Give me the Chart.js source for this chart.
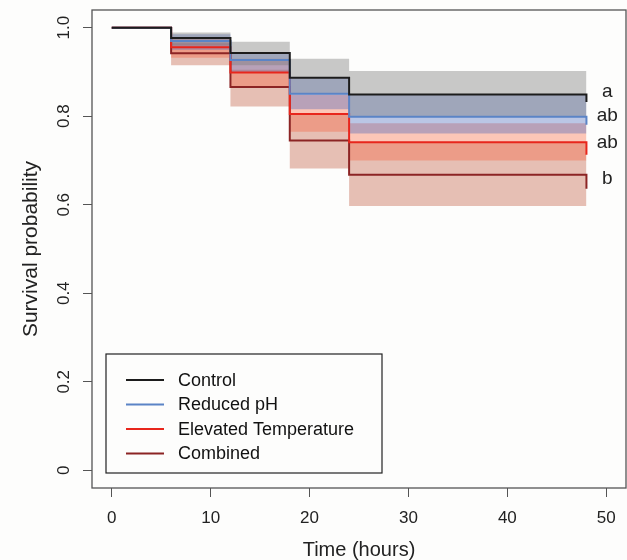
<!DOCTYPE html>
<html lang="en">
<head>
<meta charset="UTF-8" />
<title>Survival curves</title>
<script src="https://cdn.jsdelivr.net/npm/chart.js"></script>
<style>
  html, body { margin: 0; padding: 0; background: #fdfdfc; }
</style>
</head>
<body>
<canvas id="survChart" width="627" height="560"></canvas>
<script>
// step times (hours); last point is the final drop at 48 h
const times = [0, 6, 12, 18, 24, 48];

const groupNames = ['Control', 'Reduced pH', 'Elevated Temperature', 'Combined'];

// Kaplan-Meier estimates
const controlSurv = [1, 0.977, 0.943, 0.887, 0.849, 0.832];
const phSurv      = [1, 0.970, 0.927, 0.851, 0.799, 0.781];
const tempSurv    = [1, 0.956, 0.899, 0.805, 0.741, 0.713];
const combSurv    = [1, 0.942, 0.866, 0.745, 0.668, 0.636];

// confidence bands (the 48 h value just closes the 24 h band)
const controlHi = [1, 0.989, 0.968, 0.930, 0.902, 0.902];
const controlLo = [1, 0.960, 0.915, 0.852, 0.800, 0.800];
const phHi      = [1, 0.985, 0.945, 0.886, 0.850, 0.850];
const phLo      = [1, 0.950, 0.900, 0.816, 0.761, 0.761];
const tempHi    = [1, 0.975, 0.930, 0.848, 0.784, 0.784];
const tempLo    = [1, 0.932, 0.868, 0.765, 0.700, 0.700];
const combHi    = [1, 0.965, 0.905, 0.803, 0.741, 0.741];
const combLo    = [1, 0.915, 0.822, 0.682, 0.597, 0.597];

// significance letters next to the curve ends
const letters = ['a', 'ab', 'ab', 'b'];
const letterY = [0.855, 0.802, 0.739, 0.659];
const letterX = 50.1;

const xTicks = [0, 10, 20, 30, 40, 50];
const yTicks = [0, 0.2, 0.4, 0.6, 0.8, 1.0];
const yTickLabels = ['0', '0.2', '0.4', '0.6', '0.8', '1.0'];

const lineColors = ['#1c1c1c', '#5b84c6', '#e8261c', '#8c2424'];
const bandColors = ['rgba(120,120,120,0.40)', 'rgba(60,95,185,0.35)',
                    'rgba(250,95,55,0.35)', 'rgba(185,75,45,0.35)'];
const FONT = '"Liberation Sans", Arial, sans-serif';

const pts = arr => times.map((t, i) => ({ x: t, y: arr[i] }));

const survs = [controlSurv, phSurv, tempSurv, combSurv];
const his = [controlHi, phHi, tempHi, combHi];
const los = [controlLo, phLo, tempLo, combLo];

const datasets = [];
survs.forEach((s, i) => {
  datasets.push({
    label: groupNames[i], data: pts(s), stepped: true,
    borderColor: lineColors[i], borderWidth: 2, pointRadius: 0, fill: false
  });
});
his.forEach((h, i) => {
  datasets.push({
    label: groupNames[i] + ' upper', data: pts(h), stepped: true,
    borderWidth: 0, pointRadius: 0, backgroundColor: bandColors[i], fill: '+1'
  });
  datasets.push({
    label: groupNames[i] + ' lower', data: pts(los[i]), stepped: true,
    borderWidth: 0, pointRadius: 0, fill: false
  });
});

const boxPlugin = {
  id: 'box',
  afterDatasetsDraw(chart) {
    const { ctx, chartArea: a, scales } = chart;
    ctx.save();
    ctx.strokeStyle = '#555';
    ctx.lineWidth = 1.3;
    ctx.strokeRect(a.left, a.top, a.right - a.left, a.bottom - a.top);

    // rotated y tick labels
    ctx.fillStyle = '#222';
    ctx.font = '17px ' + FONT;
    ctx.textAlign = 'center';
    ctx.textBaseline = 'middle';
    yTicks.forEach((v, i) => {
      ctx.save();
      ctx.translate(64, scales.y.getPixelForValue(v));
      ctx.rotate(-Math.PI / 2);
      ctx.fillText(yTickLabels[i], 0, 0);
      ctx.restore();
    });

    // group letters
    ctx.font = '19px ' + FONT;
    letters.forEach((l, i) => {
      ctx.fillText(l, scales.x.getPixelForValue(letterX), scales.y.getPixelForValue(letterY[i]));
    });

    // legend
    const lx = 106, ly = 354, lw = 276, lh = 119;
    ctx.fillStyle = '#fdfdfc';
    ctx.fillRect(lx, ly, lw, lh);
    ctx.strokeStyle = '#222';
    ctx.lineWidth = 1.2;
    ctx.strokeRect(lx, ly, lw, lh);
    ctx.font = '18px ' + FONT;
    ctx.textAlign = 'left';
    groupNames.forEach((name, i) => {
      const ry = 380 + i * 24.5;
      ctx.strokeStyle = lineColors[i];
      ctx.lineWidth = 2;
      ctx.beginPath();
      ctx.moveTo(126, ry);
      ctx.lineTo(164, ry);
      ctx.stroke();
      ctx.fillStyle = '#111';
      ctx.fillText(name, 178, ry + 1);
    });
    ctx.restore();
  }
};

new Chart(document.getElementById('survChart'), {
  type: 'line',
  data: { datasets: datasets },
  plugins: [boxPlugin],
  options: {
    responsive: false,
    animation: false,
    layout: { padding: { top: 10, right: 1, left: 0, bottom: 0 } },
    plugins: { legend: { display: false }, tooltip: { enabled: false } },
    scales: {
      x: {
        type: 'linear', min: -2, max: 52,
        afterBuildTicks: s => { s.ticks = xTicks.map(v => ({ value: v })); },
        afterFit: s => { s.height = 72; },
        border: { display: false },
        grid: { drawOnChartArea: false, tickLength: 9, tickColor: '#555', tickWidth: 1 },
        ticks: { padding: 11, color: '#222', font: { family: FONT, size: 17 } },
        title: {
          display: true, text: 'Time (hours)', color: '#222',
          font: { family: FONT, size: 20, lineHeight: 1 }, padding: { top: 0, bottom: 0 }
        }
      },
      y: {
        type: 'linear', min: -0.04, max: 1.04,
        afterBuildTicks: s => { s.ticks = yTicks.map(v => ({ value: v })); },
        afterFit: s => { s.width = 92; },
        border: { display: false },
        grid: { drawOnChartArea: false, tickLength: 9, tickColor: '#555', tickWidth: 1 },
        ticks: { display: false },
        title: {
          display: true, text: 'Survival probability', color: '#222',
          font: { family: FONT, size: 21, lineHeight: 1.2 }, padding: { top: 19, bottom: 0 }
        }
      }
    }
  }
});
</script>
</body>
</html>
